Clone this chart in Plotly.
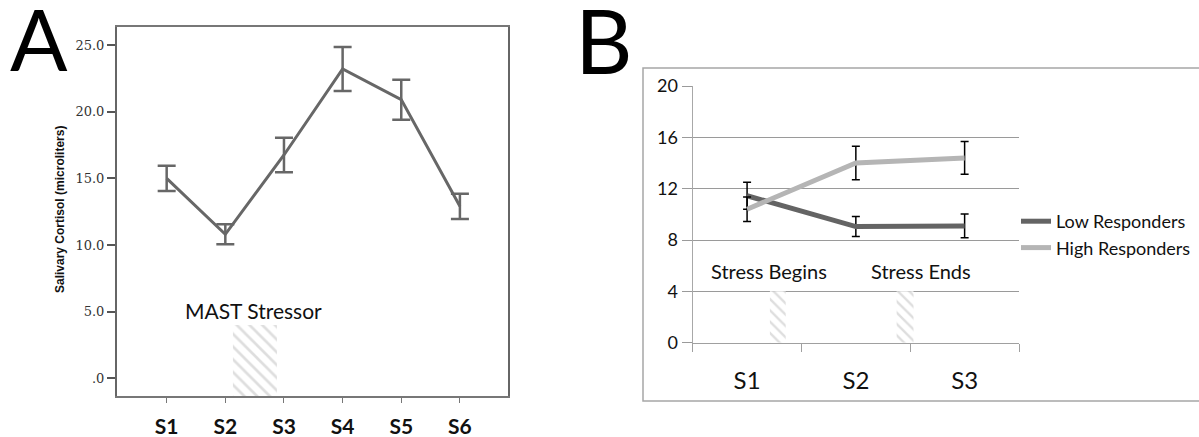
import plotly.graph_objects as go

W, H = 1199, 437

def px_x(p):
    return p / W

def px_y(p):
    return 1 - p / H

# ---------------- Data: panel A ----------------
a_categories = ["S1", "S2", "S3", "S4", "S5", "S6"]
a_positions = [0, 1, 2, 3, 4, 5]
a_cortisol = [15.0, 10.8, 16.75, 23.2, 20.9, 12.9]
a_error = [0.95, 0.75, 1.3, 1.65, 1.5, 0.95]
a_ytick_vals = [0, 5, 10, 15, 20, 25]
a_ytick_text = [".0", "5.0", "10.0", "15.0", "20.0", "25.0"]
a_stressor_span = [1.13, 1.88]
a_stressor_top = 4.0
a_stressor_label = "MAST Stressor"
a_yrange = [-1.33, 26.35]

# ---------------- Data: panel B ----------------
b_categories = ["S1", "S2", "S3"]
b_positions = [0, 1, 2]
b_low = [11.45, 9.05, 9.1]
b_low_err = [1.05, 0.78, 0.92]
b_high = [10.4, 14.0, 14.4]
b_high_err = [0.95, 1.3, 1.27]
b_ytick_vals = [0, 4, 8, 12, 16, 20]
b_boundaries = [-0.5, 0.5, 1.5, 2.5]
b_stress_begin_span = [0.21, 0.355]
b_stress_end_span = [1.375, 1.53]
b_stress_top = 4.0
b_stress_labels = ["Stress Begins", "Stress Ends"]
b_stress_label_x = [0.20, 1.60]
b_stress_label_y = 5.6

CAL = "Lato"
fig = go.Figure()

hatch = dict(shape="\\", fgcolor="#bdbdbd", bgcolor="white", size=9, solidity=0.3)

# Panel A stressor hatch
fig.add_trace(go.Bar(
    x=[(a_stressor_span[0] + a_stressor_span[1]) / 2],
    y=[a_stressor_top - a_yrange[0]],
    base=[a_yrange[0]],
    width=[a_stressor_span[1] - a_stressor_span[0]],
    marker=dict(color="white", line=dict(width=0), pattern=hatch),
    xaxis="x", yaxis="y", showlegend=False, hoverinfo="skip",
))

# Panel A line
fig.add_trace(go.Scatter(
    x=a_positions, y=a_cortisol, mode="lines",
    line=dict(color="#676767", width=3),
    error_y=dict(type="data", array=a_error, color="#676767", thickness=2.5, width=9),
    xaxis="x", yaxis="y", showlegend=False,
))

# Panel B hatches
for span in (b_stress_begin_span, b_stress_end_span):
    fig.add_trace(go.Bar(
        x=[(span[0] + span[1]) / 2],
        y=[b_stress_top],
        base=[0],
        width=[span[1] - span[0]],
        marker=dict(color="white", line=dict(width=0), pattern=dict(hatch, size=8)),
        xaxis="x2", yaxis="y2", showlegend=False, hoverinfo="skip",
    ))

fig.add_trace(go.Scatter(
    x=b_positions, y=b_low, mode="lines", name="Low Responders",
    line=dict(color="#646464", width=5),
    error_y=dict(type="data", array=b_low_err, color="black", thickness=1.5, width=4),
    xaxis="x2", yaxis="y2",
))
fig.add_trace(go.Scatter(
    x=b_positions, y=b_high, mode="lines", name="High Responders",
    line=dict(color="#b5b5b5", width=5),
    error_y=dict(type="data", array=b_high_err, color="black", thickness=1.5, width=4),
    xaxis="x2", yaxis="y2",
))

fig.update_layout(
    width=W, height=H, autosize=False,
    margin=dict(l=0, r=0, t=0, b=0, pad=0, autoexpand=False),
    paper_bgcolor="white", plot_bgcolor="white",
    barmode="overlay",
    xaxis=dict(
        domain=[px_x(117), px_x(508)], anchor="y", automargin=False,
        range=[-0.847, 5.82], tickvals=a_positions, ticktext=a_categories,
        showline=True, linecolor="#777777", linewidth=1.5, mirror=True,
        ticks="outside", ticklen=5, tickcolor="#777777", tickwidth=1.2,
        showgrid=False, zeroline=False,
        tickfont=dict(family=CAL, size=21, color="#111111", weight="bold"),
        ticklabelstandoff=6,
    ),
    yaxis=dict(
        domain=[px_y(396), px_y(27)], anchor="x", automargin=False,
        range=a_yrange, tickvals=a_ytick_vals, ticktext=a_ytick_text,
        showline=True, linecolor="#666666", linewidth=2, mirror=True,
        ticks="outside", ticklen=8, tickcolor="#555555", tickwidth=1.5,
        showgrid=False, zeroline=False,
        tickfont=dict(family="DejaVu Serif", size=13, color="#333333"),
    ),
    xaxis2=dict(
        domain=[px_x(692.7), px_x(1019)], anchor="y2", automargin=False,
        range=[-0.5, 2.5], tickvals=b_positions, ticktext=b_categories,
        ticks="", showline=True, linecolor="#a0a0a0", linewidth=1.3,
        showgrid=False, zeroline=False,
        minor=dict(tickvals=b_boundaries, ticks="outside", ticklen=8,
                   tickcolor="#a0a0a0", tickwidth=1.3, showgrid=False),
        tickfont=dict(family=CAL, size=24, color="#111111"),
        ticklabelstandoff=16,
    ),
    yaxis2=dict(
        domain=[px_y(342.7), px_y(86)], anchor="x2", automargin=False,
        range=[0, 20], tickvals=b_ytick_vals,
        showline=True, linecolor="#a8a8a8", linewidth=1.3,
        showgrid=True, gridcolor="#9a9a9a", gridwidth=1.2,
        ticks="outside", ticklen=10, tickcolor="#9a9a9a", tickwidth=1.2,
        zeroline=False,
        tickfont=dict(family=CAL, size=18, color="#111111"),
    ),
    legend=dict(
        x=px_x(1016), y=px_y(234.5), xanchor="left", yanchor="middle",
        font=dict(family=CAL, size=18, color="#111111"),
        bgcolor="rgba(0,0,0,0)", borderwidth=0, itemwidth=30,
        tracegroupgap=0,
    ),
    shapes=[
        dict(type="rect", xref="paper", yref="paper",
             x0=px_x(643), x1=px_x(1203), y0=px_y(401), y1=px_y(68),
             line=dict(color="#a6a6a6", width=1.5), fillcolor="rgba(0,0,0,0)", layer="below"),
    ],
    annotations=[
        dict(text="A", x=px_x(38.5), y=1, xref="paper", yref="paper",
             showarrow=False, xanchor="center", yanchor="top", height=72, valign="middle",
             font=dict(family=CAL, size=85, color="black")),
        dict(text="B", x=px_x(604), y=1, xref="paper", yref="paper",
             showarrow=False, xanchor="center", yanchor="top", height=74, valign="middle",
             font=dict(family=CAL, size=89, color="black")),
        dict(text="Salivary Cortisol (microliters)", textangle=-90,
             x=px_x(60), y=px_y(210), xref="paper", yref="paper",
             showarrow=False, xanchor="center", yanchor="middle",
             font=dict(family="Liberation Sans", size=12, color="#111111", weight="bold")),
        dict(text=a_stressor_label, x=sum(a_stressor_span) / 2 - 0.03, y=5.1,
             xref="x", yref="y", showarrow=False, xanchor="center", yanchor="middle",
             font=dict(family=CAL, size=21, color="#111111")),
    ] + [
        dict(text=t, x=xv, y=b_stress_label_y, xref="x2", yref="y2",
             showarrow=False, xanchor="center", yanchor="middle",
             font=dict(family=CAL, size=20, color="#111111"))
        for t, xv in zip(b_stress_labels, b_stress_label_x)
    ],
)

fig.write_html("out.html", include_plotlyjs=True, config={"displayModeBar": False},
               post_script="document.body.style.margin='0';document.body.style.overflow='hidden';")
